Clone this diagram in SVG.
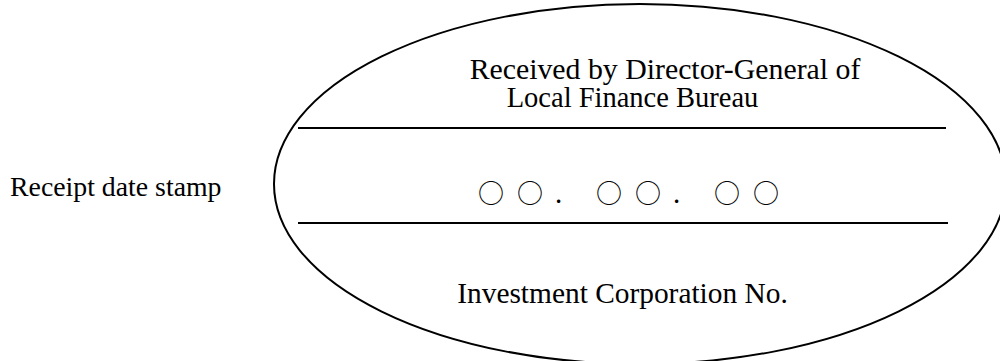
<svg xmlns="http://www.w3.org/2000/svg" width="1000" height="361" viewBox="0 0 1000 361">
<style>
.t{font-family:"Liberation Serif","Times New Roman",serif;font-size:28.5px;fill:#000}
.r{font-size:27.8px}
.h{font-size:29.8px}
.i{font-size:29.4px}
.c{text-anchor:middle}
.d{font-family:"Noto Sans CJK JP","DejaVu Sans",sans-serif;font-size:26px;fill:#000}
.ln{stroke:#000;stroke-width:2;fill:none}
</style>
<rect width="1000" height="361" fill="#fff"/>
<g id="label">
<text class="t r" x="10" y="196">Receipt date stamp</text>
</g>
<g id="stamp">
<ellipse class="ln" cx="640" cy="184" rx="366" ry="180"/>
<line class="ln" x1="298" y1="128" x2="946" y2="128"/>
<line class="ln" x1="298" y1="223" x2="948" y2="223"/>
<text class="t h c" x="665" y="79">Received by Director-General of</text>
<text class="t c" x="632.5" y="107">Local Finance Bureau</text>
<text class="d" x="478 517 555 596 635 673 714 753" y="203">○○.○○.○○</text>
<text class="t i c" x="622.5" y="303">Investment Corporation No.</text>
</g>
<g id="connectors"/>
</svg>
